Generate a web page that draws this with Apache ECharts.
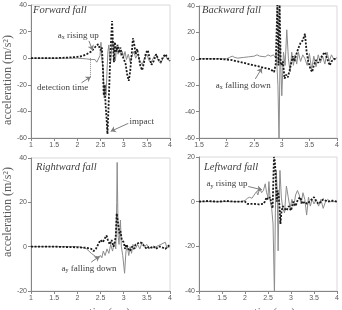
<!DOCTYPE html>
<html>
<head>
<meta charset="utf-8">
<script src="https://cdn.jsdelivr.net/npm/echarts@6/dist/echarts.min.js"></script>
<style>
  html, body { margin: 0; padding: 0; background: #fff; }
  #c { width: 342px; height: 310px; }
</style>
</head>
<body>
<div id="c"></div>
<script>
// ---- Forward fall ----
const fwdSolidT = [1.0, 1.5, 2.0, 2.2, 2.3, 2.38, 2.42, 2.46, 2.49, 2.51, 2.53, 2.56, 2.58, 2.6, 2.62, 2.64, 2.66, 2.68, 2.7, 2.72, 2.74, 2.76, 2.78, 2.8, 2.82, 2.85, 2.88, 2.91, 2.94, 2.97, 3.0, 3.03, 3.06, 3.1, 3.14, 3.18, 3.22, 3.26, 3.3, 3.35, 3.4, 3.45, 3.5, 3.55, 3.6, 3.65, 3.7, 3.75, 3.8, 3.85, 3.9, 3.95, 4.0];
const fwdSolidA = [0, 0, 0, -0.5, -1, -1, -3, -4, 2, 12, 0, -10, -30, -20, -28, -10, 5, 10, 0, -3, 8, 14, 5, 12, -2, 8, 3, 7, 2, 5, 1, 5, -1, 3, -3, 2, 5, 0, 3, -2, -5, 0, 3, -2, -3, 1, 3, -2, -4, 0, 2, -1, -2];
const fwdDashT = [1.0, 1.5, 1.8, 2.0, 2.1, 2.2, 2.3, 2.35, 2.4, 2.45, 2.5, 2.53, 2.55, 2.57, 2.59, 2.61, 2.63, 2.65, 2.67, 2.69, 2.71, 2.73, 2.75, 2.77, 2.79, 2.81, 2.84, 2.87, 2.9, 2.93, 2.96, 3.0, 3.04, 3.08, 3.11, 3.14, 3.17, 3.2, 3.23, 3.26, 3.29, 3.32, 3.36, 3.4, 3.44, 3.48, 3.52, 3.56, 3.6, 3.65, 3.7, 3.75, 3.8, 3.85, 3.9, 3.95, 4.0];
const fwdDashA = [0, 0, 0.5, 1, 1.5, 3, 5, 7, 9, 10.5, 6, 8, -5, -28, -20, -35, -45, -57, -40, -20, 0, 15, 28, 10, -3, 12, 5, 10, 4, 8, 3, 4, -4, -13, -17, -10, 2, 15, 10, 3, 7, 2, -6, -9, -3, 4, 6, 0, -5, -2, 3, -1, -3, 1, 3, 0, -2];

// ---- Backward fall ----
const bwdSolidT = [1.5, 1.8, 2.0, 2.05, 2.1, 2.15, 2.2, 2.3, 2.4, 2.5, 2.55, 2.6, 2.7, 2.75, 2.8, 2.85, 2.88, 2.9, 2.93, 2.95, 2.97, 3.0, 3.03, 3.06, 3.09, 3.12, 3.15, 3.18, 3.21, 3.24, 3.27, 3.3, 3.34, 3.38, 3.42, 3.46, 3.5, 3.54, 3.58, 3.62, 3.66, 3.7, 3.74, 3.78, 3.82, 3.86, 3.9, 3.95, 4.0];
const bwdSolidA = [0, 0, 0, 1, 2, 1, 0.5, 1, 1.5, 2, 3, 2, 1.5, 3, 2, 3, 1, 5, -20, -62, 10, -28, 5, -5, 22, 0, -10, 5, -5, 3, -4, 5, -2, 3, 0, -5, 4, -8, 2, -6, 3, -3, 2, -4, 5, -2, 3, -1, 1];
const bwdDashT = [1.5, 1.8, 2.0, 2.1, 2.2, 2.3, 2.4, 2.5, 2.6, 2.7, 2.8, 2.86, 2.89, 2.92, 2.94, 2.96, 2.98, 3.0, 3.02, 3.05, 3.08, 3.11, 3.14, 3.17, 3.2, 3.23, 3.26, 3.3, 3.34, 3.38, 3.42, 3.45, 3.48, 3.52, 3.55, 3.58, 3.62, 3.66, 3.7, 3.74, 3.78, 3.81, 3.84, 3.87, 3.9, 3.95, 4.0];
const bwdDashA = [0, 0, -0.5, -1, -2, -3, -4, -5, -6, -7, -8, -10, -4, 42, -5, 42, -3, -5, -2, -15, -12, -14, -9, -10, 2, -2, 3, 8, 12, 14, 19, 5, -2, -8, -10, -5, -1, -3, 0, 3, 5, 6, -2, -5, -2, 0, 0];

// ---- Rightward fall ----
const rgtSolidT = [1.0, 1.5, 2.0, 2.1, 2.2, 2.3, 2.4, 2.47, 2.5, 2.53, 2.56, 2.6, 2.64, 2.68, 2.72, 2.76, 2.8, 2.83, 2.85, 2.86, 2.88, 2.9, 2.93, 2.95, 2.98, 3.02, 3.05, 3.08, 3.11, 3.14, 3.17, 3.2, 3.25, 3.3, 3.35, 3.4, 3.45, 3.5, 3.55, 3.6, 3.65, 3.7, 3.75, 3.8, 3.85, 3.9, 3.93, 3.96, 4.0];
const rgtSolidA = [0, 0, 0, -0.3, -1, -3, -4.5, -5, -4, -5, -2, -4, -1, -3, 1, -2, 2, -1, 20, 38, 5, 1, 12, 0, -4, -12, -2, 0, -4, 0, -3, 1, -1, 1, -1, 2, 0, 1, -1, 0, -0.5, 0, 0.5, 1, 1.5, 2, -0.5, -1, 0];
const rgtDashT = [1.0, 1.5, 2.0, 2.2, 2.3, 2.35, 2.4, 2.45, 2.5, 2.55, 2.6, 2.63, 2.66, 2.7, 2.74, 2.78, 2.81, 2.83, 2.85, 2.87, 2.89, 2.91, 2.93, 2.96, 3.0, 3.03, 3.06, 3.1, 3.14, 3.18, 3.22, 3.26, 3.3, 3.35, 3.4, 3.45, 3.5, 3.55, 3.6, 3.65, 3.7, 3.75, 3.8, 3.85, 3.9, 3.95, 4.0];
const rgtDashA = [0, 0, -0.3, -0.5, -1, -2, -1, 1, 3, 2, 4, 5, 3, 1, 3, 0, 2, 5, 15, 12, 9, 6, 7, 3, 2, -1, 1, -1, -2, 0, -1, 1, 0.5, 2, 1.5, 0, -1, 0, -0.5, 0, -1, 0, 0, -0.5, -1, 0, 1];

// ---- Leftward fall ----
const lftSolidT = [1.0, 1.5, 1.9, 2.0, 2.05, 2.1, 2.15, 2.2, 2.25, 2.28, 2.32, 2.36, 2.4, 2.44, 2.47, 2.5, 2.52, 2.55, 2.58, 2.61, 2.64, 2.66, 2.68, 2.7, 2.72, 2.74, 2.76, 2.79, 2.82, 2.86, 2.9, 2.94, 2.98, 3.02, 3.06, 3.1, 3.14, 3.18, 3.22, 3.26, 3.3, 3.34, 3.38, 3.42, 3.46, 3.5, 3.55, 3.6, 3.65, 3.7, 3.75, 3.8, 3.85, 3.9, 4.0];
const lftSolidA = [0, 0, 0, 0.5, 1.5, 2, 1.5, 3, 4.5, 3, 6, 4, 5, 8, 4, 2, 9, 0, -3, -10, -42, -5, 14, 5, -22, 0, 14, 2, -3, -5, 7, 2, -3, 1, -2, 3, 5, 3, -1, 4, 1, -6, 2, -2, 1, -1, 1, -2, 1, -3, 0, 1, 0, 0, 0];
const lftDashT = [1.0, 1.2, 1.4, 1.6, 1.8, 2.0, 2.05, 2.2, 2.3, 2.4, 2.43, 2.47, 2.5, 2.54, 2.57, 2.6, 2.63, 2.65, 2.67, 2.69, 2.71, 2.73, 2.75, 2.77, 2.79, 2.82, 2.86, 2.9, 2.95, 3.0, 3.05, 3.1, 3.15, 3.2, 3.25, 3.3, 3.35, 3.4, 3.45, 3.5, 3.55, 3.6, 3.65, 3.7, 3.8, 3.9, 4.0];
const lftDashA = [0, 0.3, 0, 0.3, 0, 0, -1, -1, -1.2, -1, 0, 2, 1, 2, 0, -3, 20, 18, 10, 0, 5, 3, -2, -10, -5, -2, -3, -4, -2, -4, 0, -2, 1, 2, -1, 0, -1, 0, 1, 2, 0, -1, 0, 1, 0, 0.5, 0];

// axis ranges and tick steps
const panelTitles = ['Forward fall', 'Backward fall', 'Rightward fall', 'Leftward fall'];
const xMins = [1, 1.5, 1, 1];
const yMins = [-60, -60, -20, -40];
const yMaxs = [40, 40, 40, 20];

const SERIF = '"Liberation Serif", "Times New Roman", serif';
const SANS = '"Liberation Sans", Arial, sans-serif';
const TXT = '#404040';

function pairs(t, a) { return t.map((x, i) => [x, a[i]]); }

const grids = [
  { left: 31, top: 5, width: 139, height: 133 },
  { left: 199, top: 6, width: 138, height: 132 },
  { left: 31, top: 158, width: 139, height: 133 },
  { left: 199, top: 157, width: 138, height: 134 },
];

const xAxes = grids.map((g, i) => ({
  type: 'value', gridIndex: i, min: xMins[i], max: 4, interval: 0.5,
  axisLine: { onZero: false, lineStyle: { color: '#868686', width: 1 } },
  axisTick: { show: true, length: 3, lineStyle: { color: '#868686' } },
  axisLabel: { color: '#595959', fontSize: 7, fontFamily: SANS, margin: 4 },
  splitLine: { show: false },
}));
const yAxes = grids.map((g, i) => ({
  type: 'value', gridIndex: i, min: yMins[i], max: yMaxs[i], interval: 20,
  axisLine: { show: true, onZero: false, lineStyle: { color: '#868686', width: 1 } },
  axisTick: { show: true, length: 3, lineStyle: { color: '#868686' } },
  axisLabel: { color: '#595959', fontSize: 7, fontFamily: SANS, margin: 4 },
  splitLine: { show: false },
}));

const rich = {
  m: { fontSize: 9, fontFamily: SERIF, color: TXT },
  s: { fontSize: 6, fontFamily: SERIF, color: TXT, verticalAlign: 'bottom', padding: [4, 0, 0, 0] },
};
function note(t, v, text) {
  return { coord: [t, v], label: { show: true, position: 'inside', formatter: text, rich: rich } };
}
function arrow(t1, v1, t2, v2) {
  return [{ coord: [t1, v1] }, { coord: [t2, v2] }];
}
function marks(notes, arrows, extraLines) {
  return {
    markPoint: {
      silent: true, symbol: 'circle', symbolSize: 1, itemStyle: { color: 'rgba(0,0,0,0)' },
      data: notes,
    },
    markLine: {
      silent: true, symbol: ['none', 'arrow'], symbolSize: 5, animation: false,
      lineStyle: { color: '#7f7f7f', width: 1, type: 'solid' }, label: { show: false },
      data: arrows.concat(extraLines || []),
    },
  };
}

const solids = [pairs(fwdSolidT, fwdSolidA), pairs(bwdSolidT, bwdSolidA), pairs(rgtSolidT, rgtSolidA), pairs(lftSolidT, lftSolidA)];
const dashes = [pairs(fwdDashT, fwdDashA), pairs(bwdDashT, bwdDashA), pairs(rgtDashT, rgtDashA), pairs(lftDashT, lftDashA)];

const annot = [
  marks(
    [note(2.02, 17, '{m|a}{s|x}{m| rising up}'), note(1.68, -22, '{m|detection time}'), note(3.39, -48, '{m|impact}')],
    [arrow(2.25, 13, 2.33, 6), arrow(2.09, -18.5, 2.29, -14), arrow(3.1, -49, 2.72, -55)],
    [[{ coord: [2.27, 0], symbol: 'none', lineStyle: { type: 'dotted', color: '#8c8c8c' } }, { coord: [2.27, -14.5], symbol: 'none' }]]
  ),
  marks([note(2.3, -20, '{m|a}{s|x}{m| falling down}')], [arrow(2.52, -15.3, 2.64, -7)]),
  marks([note(2.25, -9.7, '{m|a}{s|y}{m| falling down}')], [arrow(2.3, -7, 2.48, -4.3)]),
  marks([note(1.61, 7.9, '{m|a}{s|y}{m| rising up}')], [arrow(2.07, 6.8, 2.37, 5.3)]),
];

const series = [];
grids.forEach((g, i) => {
  series.push({
    type: 'line', xAxisIndex: i, yAxisIndex: i, data: solids[i], showSymbol: false, clip: true,
    lineStyle: { color: '#8c8c8c', width: 1 }, animation: false, z: 2,
  });
  series.push(Object.assign({
    type: 'line', xAxisIndex: i, yAxisIndex: i, data: dashes[i], showSymbol: false, clip: true,
    lineStyle: { color: '#1a1a1a', width: 1.8, type: [2, 1.5] }, animation: false, z: 3,
  }, annot[i]));
});

const titlePos = [[33, 5], [202, 5], [36, 162], [204, 162]];
const titles = panelTitles.map((t, i) => ({
  text: t, left: titlePos[i][0], top: titlePos[i][1], padding: 0,
  textStyle: { fontFamily: SERIF, fontStyle: 'italic', fontWeight: 'normal', fontSize: 10.5, color: TXT },
}));

function axisTitle(x, y, text, rot, italic) {
  return {
    type: 'text', x: x, y: y, rotation: rot, silent: true,
    style: {
      text: text, fontFamily: SERIF, fontSize: rot ? 12 : 11, fontStyle: italic ? 'italic' : 'normal',
      fill: '#595959', align: 'center', verticalAlign: 'middle',
    },
  };
}

const chart = echarts.init(document.getElementById('c'), null, { renderer: 'canvas' });
chart.setOption({
  backgroundColor: '#fff',
  animation: false,
  title: titles,
  grid: grids.map(g => Object.assign({ show: true, borderColor: '#d9d9d9', borderWidth: 1, backgroundColor: 'transparent' }, g)),
  xAxis: xAxes,
  yAxis: yAxes,
  series: series,
  graphic: [
    axisTitle(8, 80, 'acceleration (m/s²)', Math.PI / 2, false),
    axisTitle(8, 212, 'acceleration (m/s²)', Math.PI / 2, false),
    axisTitle(109, 312, 'time(sec)', 0, true),
    axisTitle(274, 312, 'time(sec)', 0, true),
  ],
});
</script>
</body>
</html>
